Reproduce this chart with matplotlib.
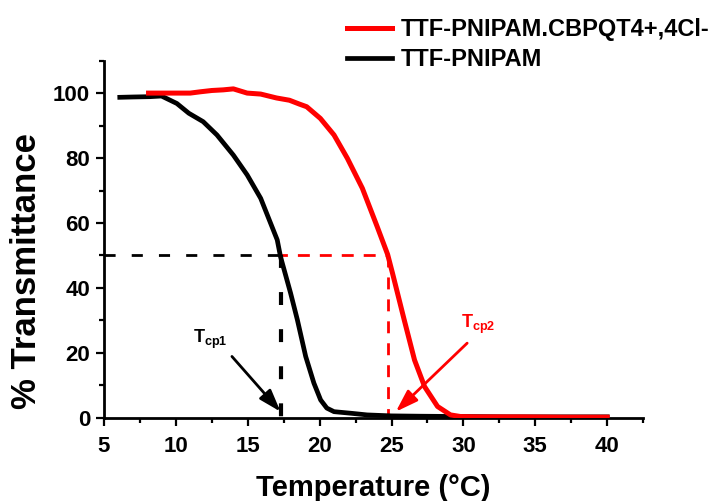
import matplotlib
matplotlib.use("Agg")
import matplotlib.pyplot as plt
from matplotlib.ticker import MultipleLocator

plt.rcParams["font.family"] = ["Liberation Sans", "DejaVu Sans"]
plt.rcParams["font.weight"] = "bold"
plt.rcParams["mathtext.fontset"] = "custom"
plt.rcParams["mathtext.rm"] = "Liberation Sans:bold"
plt.rcParams["mathtext.it"] = "Liberation Sans:bold"
plt.rcParams["mathtext.bf"] = "Liberation Sans:bold"

# Transmittance curves
temp_pnipam = [6.1, 7.0, 8.2, 9.0, 10.07, 10.9, 11.9, 12.86, 14.0, 14.96, 15.9,
               17.05, 17.28, 17.98, 18.45, 19.03, 19.6, 20.07, 20.5, 21.0, 22.2,
               23.3, 25.0, 27.0, 30.0, 33.0, 36.0, 40.0]
trans_pnipam = [98.7, 98.8, 98.9, 99.1, 96.8, 93.8, 91.2, 87.1, 80.9, 74.8, 67.6,
                54.8, 49.6, 38.4, 30.2, 18.9, 10.7, 5.5, 3.0, 1.9, 1.4,
                0.9, 0.6, 0.5, 0.4, 0.3, 0.3, 0.3]

temp_complex = [8.1, 9.0, 10.0, 11.0, 11.7, 12.5, 13.3, 14.0, 14.96, 15.9, 17.0,
                17.9, 18.6, 19.1, 20.05, 21.0, 21.93, 22.97, 24.0, 24.73, 25.07,
                25.88, 26.6, 27.3, 28.2, 29.1, 29.8, 31.0, 34.0, 37.0, 40.0]
trans_complex = [100.0, 100.0, 100.0, 100.0, 100.4, 100.8, 101.0, 101.3, 100.0, 99.7, 98.5,
                 97.8, 96.6, 95.8, 92.2, 87.1, 79.9, 70.7, 58.9, 50.3, 44.5,
                 30.2, 17.8, 9.6, 3.5, 0.9, 0.4, 0.3, 0.3, 0.2, 0.2]

labels = ["TTF-PNIPAM.CBPQT4+,4Cl-", "TTF-PNIPAM"]

# Cloud points at 50 % transmittance
tcp1 = 17.3
tcp2 = 24.75
half = 50

fig = plt.figure(figsize=(7.17, 5.01), dpi=100)
ax = fig.add_axes([0.145, 0.166, 0.752, 0.713])

ln_b, = ax.plot(temp_pnipam, trans_pnipam, color="black", lw=3.4,
                solid_joinstyle="round", zorder=3)
ln_r, = ax.plot(temp_complex, trans_complex, color="#ff0000", lw=3.6,
                solid_joinstyle="round", zorder=4)

# guide lines
ax.plot([5, tcp1], [half, half], color="black", lw=2, ls=(0, (4, 5.8)), zorder=2)
ax.plot([tcp1, tcp2], [half, half], color="#ff0000", lw=2, ls=(2, (4.3, 3.6)), zorder=2)
ax.plot([tcp1, tcp1], [half, 0], color="black", lw=3, ls=(0, (3.1, 5.8)), zorder=2)
ax.plot([tcp2, tcp2], [half, 0], color="#ff0000", lw=2, ls=(0, (4.3, 3.6)), zorder=2)

# cloud point labels with arrows
arrow_style = "-|>,head_length=1.35,head_width=0.45"
ax.annotate("", xy=(tcp1 - 0.02, 1.9), xytext=(13.9, 18.9),
            arrowprops=dict(arrowstyle=arrow_style, color="black", lw=2,
                            shrinkA=0, shrinkB=0))
ax.text(11.2, 23.1, r"$\mathrm{T_{cp1}}$", fontsize=13, color="black",
        ha="left", va="baseline")
ax.annotate("", xy=(25.3, 1.9), xytext=(30.26, 23.0),
            arrowprops=dict(arrowstyle=arrow_style, color="#ff0000", lw=2,
                            shrinkA=0, shrinkB=0))
ax.text(29.84, 27.7, r"$\mathrm{T_{cp2}}$", fontsize=13, color="#ff0000",
        ha="left", va="baseline")

ax.set_xlim(5, 42.5)
ax.set_ylim(0, 110)
ax.xaxis.set_major_locator(MultipleLocator(5))
ax.xaxis.set_minor_locator(MultipleLocator(2.5))
ax.yaxis.set_major_locator(MultipleLocator(20))
ax.yaxis.set_minor_locator(MultipleLocator(10))
ax.set_yticks([0, 20, 40, 60, 80, 100])

for side in ("top", "right"):
    ax.spines[side].set_visible(False)
for side in ("left", "bottom"):
    ax.spines[side].set_linewidth(2)

ax.tick_params(which="major", direction="out", length=6, width=1.6,
               labelsize=16, pad=4)
ax.tick_params(which="minor", direction="out", length=3.5, width=1.6)
ax.tick_params(axis="x", which="major", pad=7)

ax.set_xlabel("Temperature (\u00b0C)", fontsize=21, fontweight="bold", labelpad=12)
ax.set_ylabel("% Transmittance", fontsize=25, fontweight="bold", labelpad=7, y=0.41)

fig.legend([ln_r, ln_b], labels, loc="upper left", bbox_to_anchor=(0.478, 0.973),
           frameon=False, fontsize=17, handlelength=1.9, handletextpad=0.35,
           labelspacing=0.3, borderaxespad=0, borderpad=0.2)

fig.savefig("out.png", dpi=100)
